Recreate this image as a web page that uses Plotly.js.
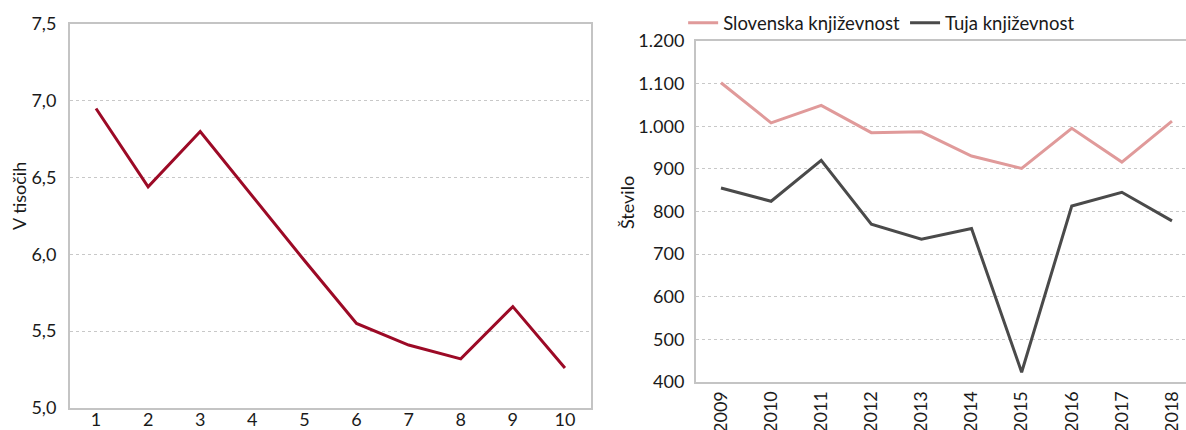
<!DOCTYPE html>
<html>
<head>
<meta charset="utf-8">
<script src="https://cdn.plot.ly/plotly-3.0.1.min.js"></script>
<style>
  html, body { margin: 0; padding: 0; background: #fff; overflow: hidden; }
  #chart { width: 1186px; height: 430px; }
</style>
</head>
<body>
<div id="chart"></div>
<script>
// left panel
const leftX = [1, 2, 3, 4, 5, 6, 7, 8, 9, 10];
const leftY = [6.95, 6.44, 6.80, 6.38, 5.96, 5.55, 5.41, 5.32, 5.66, 5.26];

// right panel
const years = ["2009", "2010", "2011", "2012", "2013", "2014", "2015", "2016", "2017", "2018"];
const slovenska = [1102, 1008, 1049, 985, 987, 930, 901, 995, 916, 1012];
const tuja = [855, 824, 920, 770, 735, 760, 423, 813, 845, 778];

const FONT = "Lato, 'Open Sans', sans-serif";
const frame = "#c4c4c4";
const grid = "#c8c8c8";

const traces = [
    {
        x: leftX, y: leftY,
        xaxis: "x", yaxis: "y",
        mode: "lines",
        line: { color: "#9c0a26", width: 3 },
        showlegend: false
    },
    {
        x: years, y: slovenska,
        xaxis: "x2", yaxis: "y2",
        name: "Slovenska književnost",
        mode: "lines",
        line: { color: "#e09a9a", width: 3 }
    },
    {
        x: years, y: tuja,
        xaxis: "x2", yaxis: "y2",
        name: "Tuja književnost",
        mode: "lines",
        line: { color: "#4a4a4a", width: 3 }
    }
];

const layout = {
    width: 1186, height: 430,
    margin: { l: 0, r: 0, t: 0, b: 0 },
    paper_bgcolor: "#fff",
    plot_bgcolor: "#fff",
    separators: ",.",
    font: { family: FONT, size: 18, color: "#1a1a1a" },
    showlegend: true,
    legend: {
        orientation: "h",
        x: 0.576, y: 0.99, xanchor: "left", yanchor: "top",
        font: { size: 18.5 },
        itemwidth: 30,
        tracegroupgap: 0,
        bgcolor: "rgba(0,0,0,0)"
    },
    xaxis: {
        domain: [0.059, 0.4983],
        range: [0.5, 10.5],
        tickvals: leftX,
        showgrid: false, zeroline: false,
        showline: true, linecolor: frame, linewidth: 2, mirror: true,
        ticks: "", ticklabelstandoff: -6
    },
    yaxis: {
        domain: [0.0512, 0.9442],
        range: [5.0, 7.5],
        dtick: 0.5, tickformat: ".1f",
        showgrid: true, gridcolor: grid, griddash: "dot", gridwidth: 1,
        zeroline: false,
        showline: true, linecolor: frame, linewidth: 2, mirror: true,
        ticks: "", ticklabelstandoff: 8
    },
    xaxis2: {
        domain: [0.5868, 1.0],
        type: "category",
        range: [-0.5, 9.28],
        tickangle: -90,
        showgrid: false, zeroline: false,
        showline: true, linecolor: frame, linewidth: 2, mirror: true,
        ticks: "", ticklabelstandoff: 0,
        anchor: "y2"
    },
    yaxis2: {
        domain: [0.1116, 0.9047],
        range: [400, 1200],
        dtick: 100,
        separatethousands: true,
        showgrid: true, gridcolor: grid, griddash: "dot", gridwidth: 1,
        zeroline: false,
        showline: true, linecolor: frame, linewidth: 2, mirror: false,
        ticks: "", ticklabelstandoff: 6,
        anchor: "x2"
    },
    annotations: [
        {
            text: "V tisočih", textangle: -90,
            xref: "paper", yref: "paper",
            x: 19 / 1186, y: 1 - 196 / 430,
            xanchor: "center", yanchor: "middle",
            showarrow: false, font: { size: 18 }
        },
        {
            text: "Število", textangle: -90,
            xref: "paper", yref: "paper",
            x: 627 / 1186, y: 1 - 203 / 430,
            xanchor: "center", yanchor: "middle",
            showarrow: false, font: { size: 18 }
        }
    ]
};

Plotly.newPlot("chart", traces, layout, { displayModeBar: false, staticPlot: true });
</script>
</body>
</html>
